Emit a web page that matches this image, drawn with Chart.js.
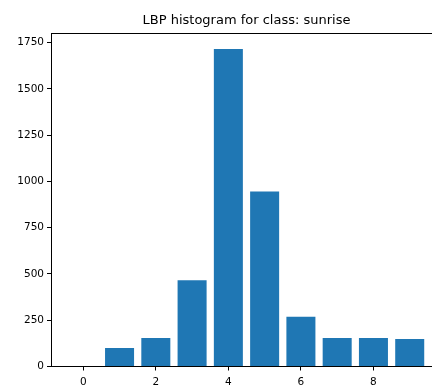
<!DOCTYPE html>
<html>
<head>
<meta charset="utf-8">
<script src="https://cdn.jsdelivr.net/npm/chart.js@4/dist/chart.umd.min.js"></script>
<style>
  html, body { margin: 0; padding: 0; background: #fff; overflow: hidden; }
  #wrap { width: 432px; height: 390px; overflow: hidden; position: relative; }
  #wrap canvas { position: absolute; left: 0; top: 0; }
</style>
</head>
<body>
<div id="wrap"><canvas id="c" width="443" height="390"></canvas></div>
<script>
// LBP code bins and their pixel counts
const bins = [0, 1, 2, 3, 4, 5, 6, 7, 8, 9];
const counts = [0, 100, 154, 466, 1716, 945, 269, 154, 154, 149];
const yTicks = [0, 250, 500, 750, 1000, 1250, 1500, 1750];
const xTicks = [0, 2, 4, 6, 8];
const titleText = 'LBP histogram for class: sunrise';

const FONT = '"DejaVu Sans", "Liberation Sans", sans-serif';
const barColor = '#1f77b4';

// axis limits follow the usual autoscale: 5% margin around the bar extents
const barWidth = 0.8;
const xLo = Math.min(...bins) - barWidth / 2;
const xHi = Math.max(...bins) + barWidth / 2;
const xPad = (xHi - xLo) * 0.05;
const yMax = Math.max(...counts) * 1.05;

// title centred over the plot area, plus the top/right frame lines
const framePlugin = {
  id: 'frame',
  afterDraw(chart) {
    const { ctx, chartArea } = chart;
    ctx.save();
    ctx.strokeStyle = '#000';
    ctx.lineWidth = 1;
    ctx.beginPath();
    const t = Math.round(chartArea.top) + 0.5;
    ctx.moveTo(chartArea.left, t);
    ctx.lineTo(chartArea.right, t);
    const r = Math.round(chartArea.right) - 0.5;
    ctx.moveTo(r, chartArea.top);
    ctx.lineTo(r, chartArea.bottom);
    ctx.stroke();
    ctx.fillStyle = '#000';
    ctx.font = '13px ' + FONT;
    ctx.textAlign = 'center';
    ctx.textBaseline = 'alphabetic';
    ctx.fillText(titleText, (chartArea.left + chartArea.right) / 2, 24.2);
    ctx.restore();
  }
};

new Chart(document.getElementById('c'), {
  type: 'bar',
  data: {
    datasets: [{
      data: bins.map((b, i) => ({ x: b, y: counts[i] })),
      backgroundColor: barColor,
      borderWidth: 0,
      barPercentage: barWidth,
      categoryPercentage: 1.0
    }]
  },
  options: {
    responsive: false,
    animation: false,
    devicePixelRatio: 1,
    layout: { padding: { top: 33, right: 1, left: 0, bottom: 0 } },
    plugins: { legend: { display: false }, tooltip: { enabled: false }, title: { display: false } },
    scales: {
      x: {
        type: 'linear',
        offset: false,
        min: xLo - xPad,
        max: xHi + xPad,
        afterFit(s) { s.height = 23.5; },
        afterBuildTicks(s) { s.ticks = xTicks.map(v => ({ value: v })); },
        grid: { offset: false, drawOnChartArea: false, drawTicks: true, tickLength: 4, color: '#000', tickColor: '#000' },
        border: { display: true, color: '#000', width: 1 },
        ticks: { color: '#000', font: { family: FONT, size: 10.5 }, padding: 5, maxRotation: 0, includeBounds: false,
                 callback: v => String(v) }
      },
      y: {
        type: 'linear',
        min: 0,
        max: yMax,
        afterFit(s) { s.width = 51; },
        afterBuildTicks(s) { s.ticks = yTicks.map(v => ({ value: v })); },
        grid: { drawOnChartArea: false, drawTicks: true, tickLength: 4, color: '#000', tickColor: '#000' },
        border: { display: true, color: '#000', width: 1 },
        ticks: { color: '#000', font: { family: FONT, size: 10.5 }, padding: 3, includeBounds: false,
                 callback: v => String(v) }
      }
    }
  },
  plugins: [framePlugin]
});
</script>
</body>
</html>
